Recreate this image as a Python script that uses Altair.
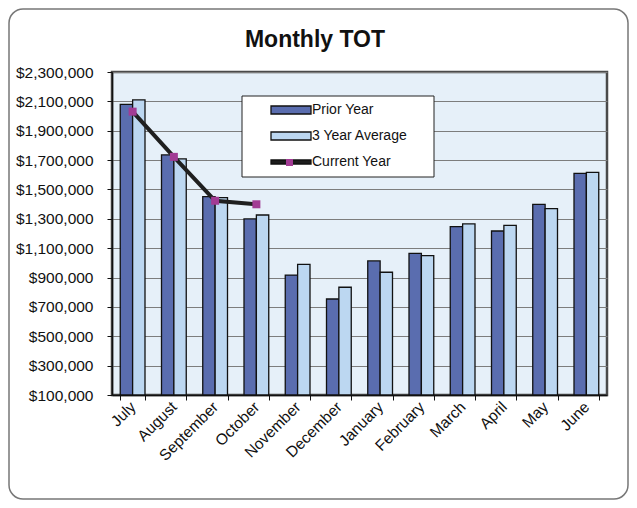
import altair as alt
import pandas as pd

months = ["July", "August", "September", "October", "November", "December",
          "January", "February", "March", "April", "May", "June"]
prior_year = [2080000, 1735000, 1451000, 1299000, 917000, 754000,
              1013000, 1065000, 1247000, 1217000, 1399000, 1610000]
three_year_avg = [2110000, 1708000, 1444000, 1326000, 990000, 834000,
                  936000, 1049000, 1265000, 1256000, 1369000, 1617000]
current_months = ["July", "August", "September", "October"]
current_year = [2030000, 1722000, 1423000, 1399000]
y_ticks = [100000, 300000, 500000, 700000, 900000, 1100000, 1300000,
           1500000, 1700000, 1900000, 2100000, 2300000]
series_names = ["Prior Year", "3 Year Average", "Current Year"]
series_colors = ["#5a6daf", "#bcd7f1", "#1c1c1c"]
title_text = "Monthly TOT"

bars_df = pd.DataFrame({
    "month": months * 2,
    "series": ["Prior Year"] * len(months) + ["3 Year Average"] * len(months),
    "value": prior_year + three_year_avg,
})
cur_df = pd.DataFrame({
    "month": current_months,
    "value": current_year,
    "marker": ["Current Year"] * len(current_months),
})
one = pd.DataFrame({"k": [0]})

FONT = "Liberation Sans"

x_axis = alt.Axis(title=None, labelAngle=-45, labelAlign="right",
                  labelBaseline="middle", labelPadding=4, tickSize=5,
                  tickBand="extent", tickColor="#111", domainColor="#111",
                  domainWidth=1.5, grid=False, labelOverlap=False)
y_axis = alt.Axis(title=None, values=y_ticks, format="$,.0f",
                  tickSize=5, labelPadding=14, tickColor="#111",
                  domainColor="#111", domainWidth=1.5, grid=True,
                  gridColor="#7d7d7d", gridWidth=1, labelOverlap=False)
x_scale = alt.Scale(domain=months, paddingInner=0.4, paddingOuter=0.2)
y_scale = alt.Scale(domain=[100000, 2300000], nice=False, zero=False)

# decorative frame of the whole picture
border = alt.Chart(one).mark_rect(
    filled=False, stroke="#777", strokeWidth=1.5, cornerRadius=14
).encode(x=alt.value(-103), x2=alt.value(516), y=alt.value(-63), y2=alt.value(427))

title = alt.Chart(one).mark_text(
    text=title_text, font=FONT, fontSize=23, fontWeight="bold", color="#111",
    align="center", baseline="alphabetic"
).encode(x=alt.value(203), y=alt.value(-25))

bars = alt.Chart(bars_df).mark_bar(stroke="#111", strokeWidth=1.3).encode(
    x=alt.X("month:N", sort=months, scale=x_scale, axis=x_axis),
    xOffset=alt.XOffset("series:N", sort=["Prior Year", "3 Year Average"],
                        scale=alt.Scale(domain=["Prior Year", "3 Year Average"])),
    y=alt.Y("value:Q", scale=y_scale, axis=y_axis),
    y2=alt.datum(100000),
    color=alt.Color("series:N",
                    scale=alt.Scale(domain=series_names, range=series_colors),
                    legend=alt.Legend(
                        title=None, orient="none", legendX=157, legendY=31,
                        padding=0,
                        symbolType=alt.ExprRef(expr="datum.value === 'Current Year' ? 'M-4,-0.4H4V0.4H-4Z' : 'M-4,-0.8H4V0.8H-4Z'"),
                        symbolSize=100, symbolOffset=15, symbolStrokeColor="#111",
                        symbolStrokeWidth=1.3, rowPadding=12,
                        labelFont=FONT, labelFontSize=14, labelColor="#111",
                        labelOffset=14)),
)

# legend box (white panel behind the legend entries)
legend_box = alt.Chart(one).mark_rect(
    fill="white", stroke="#222", strokeWidth=1
).encode(x=alt.value(130), x2=alt.value(322), y=alt.value(24), y2=alt.value(105))

line = alt.Chart(cur_df).mark_line(color="#1f1f1f", strokeWidth=4).encode(
    x=alt.X("month:N", sort=months, scale=x_scale, axis=x_axis),
    y=alt.Y("value:Q", scale=y_scale, axis=y_axis))

points = alt.Chart(cur_df).mark_point(
    shape="square", filled=True, size=64, color="#a23b94", opacity=1
).encode(
    x=alt.X("month:N", sort=months, scale=x_scale, axis=x_axis),
    y=alt.Y("value:Q", scale=y_scale, axis=y_axis),
    shape=alt.Shape("marker:N", scale=alt.Scale(range=["square"]),
                    legend=alt.Legend(title=None, orient="none", legendX=174, legendY=87,
                                      labelExpr="''", labelFontSize=7, padding=0,
                                      symbolSize=49, symbolFillColor="#a23b94",
                                      symbolStrokeColor="#a23b94", symbolStrokeWidth=0)),
)

chart = alt.layer(border, title, bars, legend_box, line, points).properties(
    width=495, height=323,
    autosize=alt.AutoSizeParams(type="none"),
    padding={"left": 104, "top": 64, "right": 22, "bottom": 105},
    background="white",
).configure_view(
    fill="#e6f0f9", stroke="#4a4a4a", strokeWidth=2.5
).configure_axis(
    labelFont=FONT, labelFontSize=15.5, labelColor="#111", labelOverlap=False
)

chart.save("out.html", embed_options={"renderer": "svg", "actions": False})
